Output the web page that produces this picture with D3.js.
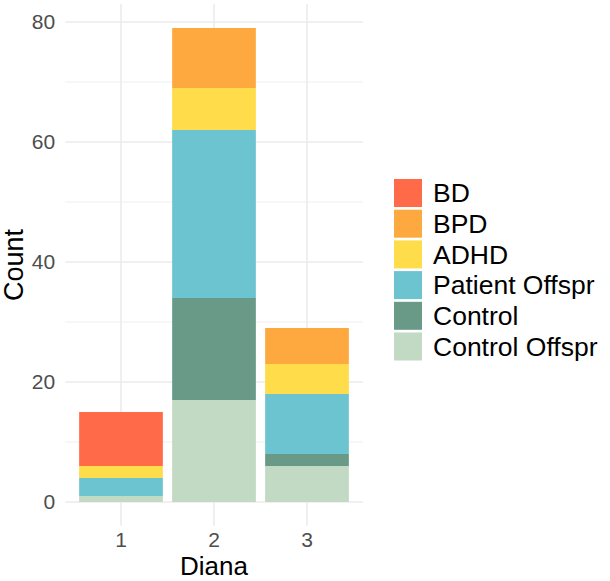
<!DOCTYPE html>
<html>
<head>
<meta charset="utf-8">
<script src="https://cdn.jsdelivr.net/npm/d3@7"></script>
<style>
  body { margin: 0; background: #ffffff; }
  text { font-family: "Liberation Sans", Arial, sans-serif; }
</style>
</head>
<body>
<div id="chart"></div>
<script>
// data
var groups = ["1", "2", "3"];
var categories = ["BD", "BPD", "ADHD", "Patient Offspr", "Control", "Control Offspr"];
var bdCounts = [9, 0, 0];
var bpdCounts = [0, 10, 6];
var adhdCounts = [2, 7, 5];
var patientOffsprCounts = [3, 28, 10];
var controlCounts = [0, 17, 2];
var controlOffsprCounts = [1, 17, 6];
var colors = ["#FF6B48", "#FEA940", "#FEDC4A", "#6CC4D0", "#699A87", "#C2D9C3"];
var majorTicks = [0, 20, 40, 60, 80];
var minorTicks = [10, 30, 50, 70];

// initial setup
var svgWidth = 610;
var svgHeight = 581;

// panel edges
var panel = { left: 65.2, right: 362.8, top: 4.3, bottom: 525.7 };

var svg = d3.select("#chart")
  .append("svg")
  .attr("width", svgWidth)
  .attr("height", svgHeight);

// build rows for the stack
var seriesByCat = {
  "BD": bdCounts,
  "BPD": bpdCounts,
  "ADHD": adhdCounts,
  "Patient Offspr": patientOffsprCounts,
  "Control": controlCounts,
  "Control Offspr": controlOffsprCounts
};
var rows = groups.map(function (g, i) {
  var row = { group: g };
  categories.forEach(function (c) { row[c] = seriesByCat[c][i]; });
  return row;
});

// bottom of the stack is the last category
var stackKeys = categories.slice().reverse();
var stacked = d3.stack().keys(stackKeys)(rows);

var color = d3.scaleOrdinal().domain(categories).range(colors);

// scales
var xScale = d3.scaleBand()
  .domain(groups)
  .range([panel.left, panel.right])
  .paddingInner(0.1)
  .paddingOuter(0.15);

var yMax = d3.max(stacked[stacked.length - 1], d => d[1]);
var yScale = d3.scaleLinear()
  .domain([-0.05 * yMax, yMax * 1.05])
  .range([panel.bottom, panel.top]);

// grid lines
var grid = svg.append("g");
grid.selectAll(".minor")
  .data(minorTicks)
  .enter()
  .append("line")
  .attr("x1", panel.left)
  .attr("x2", panel.right)
  .attr("y1", d => yScale(d))
  .attr("y2", d => yScale(d))
  .attr("stroke", "#EFEFEF")
  .attr("stroke-width", 1);

grid.selectAll(".majorY")
  .data(majorTicks)
  .enter()
  .append("line")
  .attr("x1", panel.left)
  .attr("x2", panel.right)
  .attr("y1", d => yScale(d))
  .attr("y2", d => yScale(d))
  .attr("stroke", "#EBEBEB")
  .attr("stroke-width", 1.6);

grid.selectAll(".majorX")
  .data(groups)
  .enter()
  .append("line")
  .attr("x1", d => xScale(d) + xScale.bandwidth() / 2)
  .attr("x2", d => xScale(d) + xScale.bandwidth() / 2)
  .attr("y1", panel.top)
  .attr("y2", panel.bottom)
  .attr("stroke", "#EBEBEB")
  .attr("stroke-width", 1.6);

// bars
svg.append("g")
  .selectAll("g")
  .data(stacked)
  .enter()
  .append("g")
  .attr("fill", d => color(d.key))
  .selectAll("rect")
  .data(d => d)
  .enter()
  .append("rect")
  .attr("x", d => xScale(d.data.group))
  .attr("y", d => yScale(d[1]))
  .attr("width", xScale.bandwidth())
  .attr("height", d => yScale(d[0]) - yScale(d[1]));

// axes
var leftAxis = d3.axisLeft(yScale).tickValues(majorTicks).tickSize(0).tickPadding(10);
var yAxisG = svg.append("g")
  .attr("transform", `translate(${panel.left}, 0)`)
  .call(leftAxis);
yAxisG.select(".domain").remove();
yAxisG.selectAll("text")
  .attr("font-size", 21)
  .attr("font-family", "Liberation Sans, Arial, sans-serif")
  .attr("fill", "#4D4D4D");

var bottomAxis = d3.axisBottom(xScale).tickSize(0).tickPadding(6);
var xAxisG = svg.append("g")
  .attr("transform", `translate(0, ${panel.bottom})`)
  .call(bottomAxis);
xAxisG.select(".domain").remove();
xAxisG.selectAll("text")
  .attr("font-size", 21)
  .attr("font-family", "Liberation Sans, Arial, sans-serif")
  .attr("fill", "#4D4D4D");

// axes labels
svg.append("text")
  .attr("transform", `translate(23, ${(panel.top + panel.bottom) / 2}) rotate(-90)`)
  .attr("text-anchor", "middle")
  .attr("font-size", 27)
  .attr("fill", "#000000")
  .text("Count");

svg.append("text")
  .attr("x", (panel.left + panel.right) / 2)
  .attr("y", 575)
  .attr("text-anchor", "middle")
  .attr("font-size", 26)
  .attr("fill", "#000000")
  .text("Diana");

// legend
var legend = svg.append("g")
  .attr("transform", "translate(394, 179)");

var items = legend.selectAll("g")
  .data(categories)
  .enter()
  .append("g")
  .attr("transform", (d, i) => `translate(0, ${i * 30.7})`);

items.append("rect")
  .attr("width", 28)
  .attr("height", 28)
  .attr("fill", d => color(d));

items.append("text")
  .attr("x", 39)
  .attr("y", 14)
  .attr("dy", "0.35em")
  .attr("font-size", 26.5)
  .attr("fill", "#000000")
  .text(d => d);
</script>
</body>
</html>
